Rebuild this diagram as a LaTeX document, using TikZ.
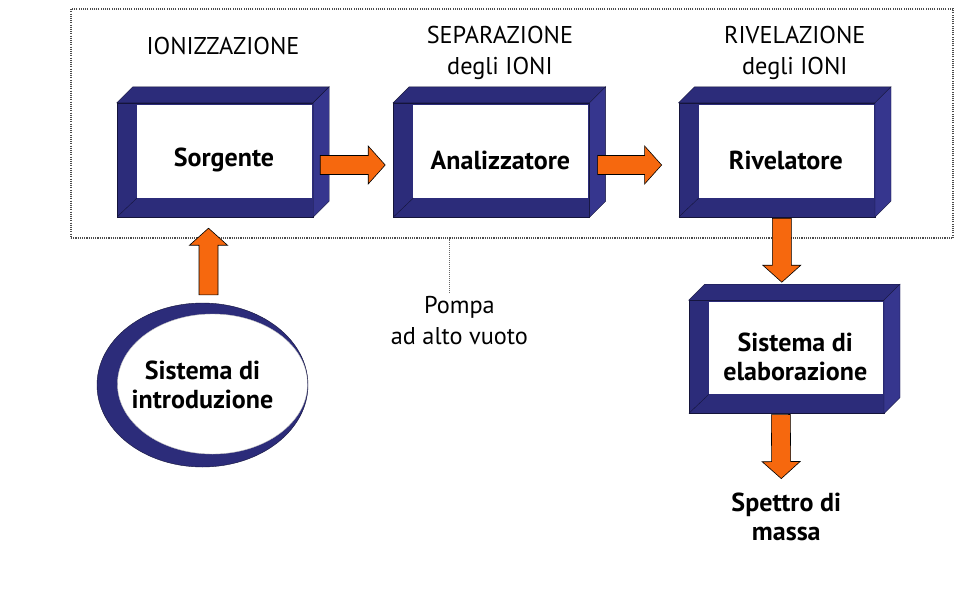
\documentclass[tikz,border=0pt]{standalone}
\usepackage{fontspec}
\setmainfont{PT Sans}
\usepackage{tikz}
\usetikzlibrary{calc}
\usetikzlibrary{positioning, shapes.geometric}

\definecolor{navy}{RGB}{44,44,122}
\definecolor{navyside}{RGB}{54,54,142}
\definecolor{navyedge}{RGB}{20,20,58}
\definecolor{arancio}{RGB}{246,104,14}

% freccia a blocco da #1 a #2
\newcommand{\freccia}[2]{%
  \coordinate (fs) at (#1);
  \coordinate (fe) at (#2);
  \coordinate (fn) at ($(fe)!17pt!(fs)$);
  \draw[blocco] ($(fs)!9.5pt!90:(fe)$) -- ($(fn)!9.5pt!90:(fe)$) -- ($(fn)!19pt!90:(fe)$)
    -- (fe) -- ($(fn)!19pt!-90:(fe)$) -- ($(fn)!9.5pt!-90:(fe)$) -- ($(fs)!9.5pt!-90:(fe)$) -- cycle;
}

\begin{document}
\begin{tikzpicture}[x=1pt, y=-1pt,
  every node/.style={align=center, font=\fontsize{24.3}{31}\selectfont},
  scritta/.style={align=center, font=\fontsize{26}{29}\selectfont\bfseries},
  unita/.style={draw=navyedge, fill=navy, minimum width=196pt, minimum height=114pt, inner sep=0pt,
    path picture={
      \fill[white] ($(path picture bounding box.north west)+(20,2)$) rectangle ($(path picture bounding box.south east)+(-1,-19)$);
      \draw[navyedge] (path picture bounding box.south west) -- ++(20,-19);
    },
    label={[scritta, xshift=9pt]center:#1}},
  blocco/.style={fill=arancio, draw=black, line width=0.6pt, line join=miter},
  cornice/.style={draw=black!70, line width=1.1pt, dash pattern=on 1.1pt off 1.1pt, minimum width=882pt, minimum height=229pt}
]
\useasboundingbox[fill=white] (0,0) rectangle (959,598);

\node[cornice] (camera) at (512,123.5) {};

\node[unita=Sorgente] (sorg) at (215,160) {};
\node[unita=Analizzatore, right=80pt of sorg] (anal) {};
\node[unita=Rivelatore, right=89pt of anal] (riv) {};
\node[unita={Sistema di\\elaborazione}, minimum width=195pt, minimum height=113pt, below=83pt of riv, xshift=9.5pt] (elab) {};

% facce superiori e laterali
\foreach \n in {sorg, anal, riv, elab} {
  \draw[navyedge, fill=navy] (\n.north west) -- ++(16,-16) -- ($(\n.north east)+(16,-16)$) -- (\n.north east) -- cycle;
  \draw[navyedge, fill=navyside] (\n.north east) -- ++(16,-16) -- ($(\n.south east)+(16,-16)$) -- (\n.south east) -- cycle;
}

\node[ellipse, draw=navyedge, fill=navy, minimum width=211pt, minimum height=164pt, inner sep=0pt, scritta,
  path picture={\fill[white, draw=black!25] ($(path picture bounding box.center)+(10,-1)$) ellipse [x radius=95pt, y radius=70pt];}]
  (intro) at (202.5,385) {Sistema di\\introduzione};

\node[above=44pt of sorg, xshift=8pt] (ioniz) {IONIZZAZIONE};
\node[above=20pt of anal, xshift=8.5pt] (separ) {SEPARAZIONE\\degli IONI};
\node[above=20pt of riv, xshift=18pt] (rivel) {RIVELAZIONE\\degli IONI};
\node[below=76pt of anal, xshift=-32pt] (pompa) {Pompa\\ad alto vuoto};
\node[scritta, below=76pt of elab] (spettro) {Spettro di\\massa};

\freccia{$(sorg.east)+(7,5)$}{$(anal.west)+(-8,5)$}
\freccia{$(anal.east)+(8,5)$}{$(riv.west)+(-17,5)$}
\freccia{$(riv.south)+(5,1)$}{$(elab.north)+(-4.5,-18)$}
\freccia{$(elab.south)+(-5.5,1)$}{$(spettro.north)+(-5,-11)$}
\freccia{$(intro.north)+(6,-8)$}{$(sorg.south)+(-6.5,11)$}

\coordinate (pp) at ($(pompa.north)+(-10,0)$);
\draw[black!60, line width=0.8pt, dash pattern=on 1pt off 1pt] (pp) -- (pp |- camera.south);
\end{tikzpicture}
\end{document}
